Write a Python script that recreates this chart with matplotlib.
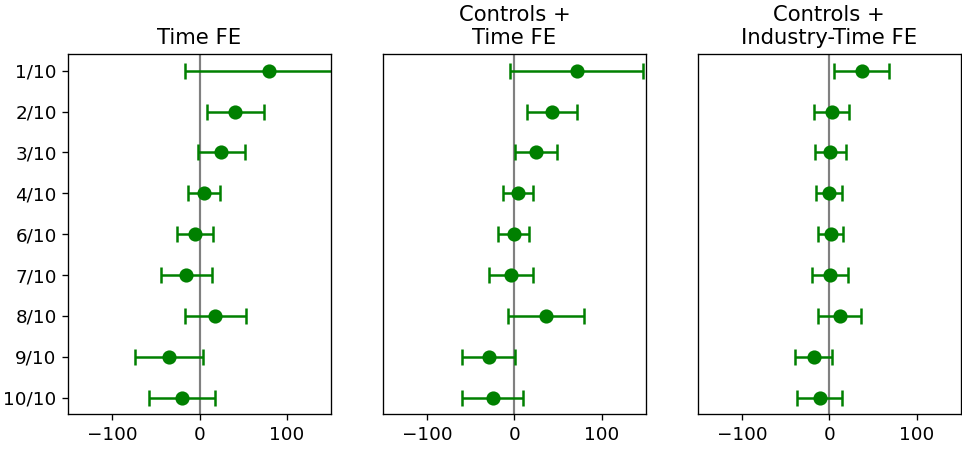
import numpy as np
import matplotlib
matplotlib.use("Agg")
import matplotlib.pyplot as plt

labels = ["1/10", "2/10", "3/10", "4/10", "6/10", "7/10", "8/10", "9/10", "10/10"]
titles = ["Time FE", "Controls +\nTime FE", "Controls +\nIndustry-Time FE"]

# point estimates and half-width of the confidence interval
time_fe = [79, 41, 25, 5, -5, -15, 18, -35, -20]
time_fe_err = [96, 33, 27, 18.5, 20.5, 29, 35, 39, 37.5]

controls_fe = [71, 43, 25, 4.5, -1, -4, 36, -29.5, -25]
controls_fe_err = [76.5, 29, 24, 17, 18, 25, 43, 30.5, 34.5]

industry_fe = [37, 3, 1, -0.5, 1.5, 0.5, 12, -18, -11]
industry_fe_err = [31.5, 20, 17.5, 14.5, 14.5, 20.3, 24.7, 20.7, 26]

series = [
    (time_fe, time_fe_err),
    (controls_fe, controls_fe_err),
    (industry_fe, industry_fe_err),
]

fig, axes = plt.subplots(1, 3, figsize=(962 / 120, 449 / 120), dpi=120, sharey=True)
fig.subplots_adjust(left=0.071, right=0.9985, bottom=0.078, top=0.879, wspace=0.2)

y = np.arange(len(labels))
for ax, title, (est, err) in zip(axes, titles, series):
    ax.axvline(0, color="gray", lw=1.3, zorder=1)
    ax.errorbar(est, y, xerr=err, fmt="o", color="green", ms=7.5,
                lw=1.5, capsize=5, capthick=1.5, zorder=2)
    ax.set_xlim(-150, 150)
    ax.set_title(title, fontsize=12.7)
    ax.tick_params(labelsize=11)

axes[0].set_yticks(y)
axes[0].set_yticklabels(labels)
axes[0].invert_yaxis()
for ax in axes[1:]:
    ax.tick_params(axis="y", left=False, labelleft=False)

fig.savefig("out.png", dpi=120)
